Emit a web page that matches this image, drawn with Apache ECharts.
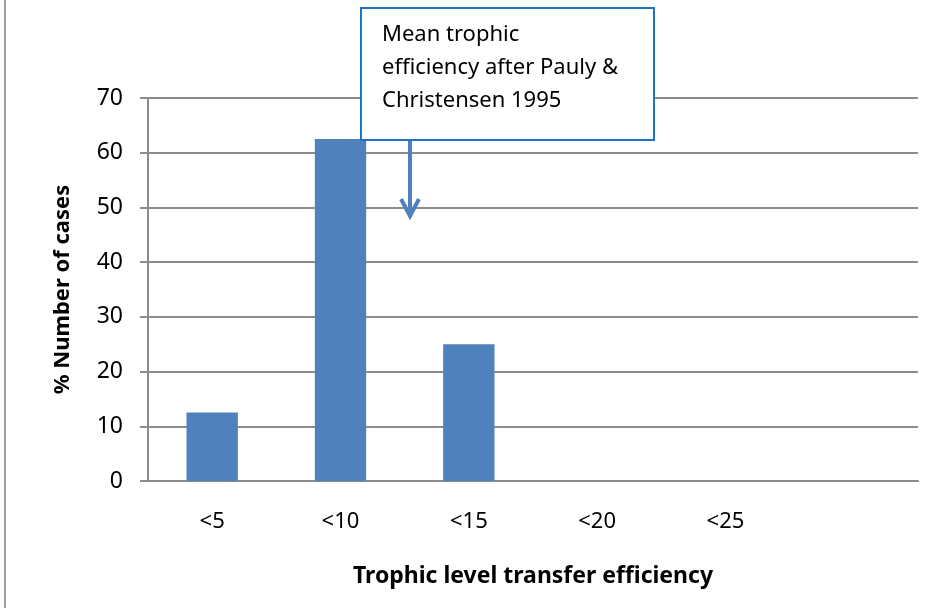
<!DOCTYPE html>
<html>
<head>
<meta charset="utf-8">
<script src="https://cdn.jsdelivr.net/npm/echarts@6/dist/echarts.min.js"></script>
<style>
  html, body { margin: 0; padding: 0; background: #fff; }
  #main { width: 928px; height: 608px; }
</style>
</head>
<body>
<div id="main"></div>
<script>
// 数据
var categories = ["<5", "<10", "<15", "<20", "<25", ""];
var percentCases = [12.5, 62.5, 25, 0, 0, 0];
var yTicks = [0, 10, 20, 30, 40, 50, 60, 70];
var noteLines = ["Mean trophic", "efficiency after Pauly &", "Christensen 1995"];

var font = "'Noto Sans', 'Open Sans', sans-serif";
var axisGray = "#8c8c8c";

var chart = echarts.init(document.getElementById("main"));

chart.setOption({
    backgroundColor: "#fff",
    animation: false,
    grid: { left: 148, right: 10, top: 98, bottom: 127 },
    xAxis: {
        type: "category",
        data: categories,
        name: "Trophic level transfer efficiency",
        nameLocation: "middle",
        nameGap: 84,
        nameTextStyle: { fontFamily: font, fontSize: 23, fontWeight: "bold", color: "#000" },
        axisLine: { lineStyle: { color: axisGray, width: 2 } },
        axisTick: { alignWithLabel: false, length: 8, lineStyle: { color: axisGray, width: 2 } },
        axisLabel: { margin: 30, fontFamily: font, fontSize: 22, color: "#000" }
    },
    yAxis: {
        type: "value",
        min: 0,
        max: yTicks[yTicks.length - 1],
        interval: 10,
        name: "% Number of cases",
        nameLocation: "middle",
        nameGap: 74,
        nameRotate: 90,
        nameTextStyle: { fontFamily: font, fontSize: 22, fontWeight: "bold", color: "#000" },
        axisLine: { show: true, lineStyle: { color: axisGray, width: 2 } },
        axisTick: { show: true, length: 8, lineStyle: { color: axisGray, width: 2 } },
        splitLine: { lineStyle: { color: axisGray, width: 2 } },
        axisLabel: { margin: 25, fontFamily: font, fontSize: 23, color: "#000" }
    },
    series: [{
        type: "bar",
        data: percentCases,
        barWidth: "40%",
        itemStyle: { color: "#4f81bd" }
    }],
    graphic: [
        // 左侧边框
        { type: "line", shape: { x1: 5, y1: 0, x2: 5, y2: 608 }, style: { stroke: "#a0a0a0", lineWidth: 2 } },
        // 注释框
        {
            type: "rect", z: 100,
            shape: { x: 361, y: 8, width: 293, height: 132 },
            style: { fill: "#fff", stroke: "#1f73c0", lineWidth: 2 }
        },
        {
            type: "text", z: 101, left: 382, top: 18,
            style: {
                text: noteLines.join("\n"),
                font: "22px " + font,
                lineHeight: 33,
                fill: "#000"
            }
        },
        // 箭头
        {
            type: "line", z: 100,
            shape: { x1: 410, y1: 141, x2: 410, y2: 216 },
            style: { stroke: "#4f81bd", lineWidth: 4 }
        },
        {
            type: "polyline", z: 100,
            shape: { points: [[401, 199], [410, 216], [419, 199]] },
            style: { stroke: "#4f81bd", lineWidth: 4, fill: null }
        }
    ]
});
</script>
</body>
</html>
